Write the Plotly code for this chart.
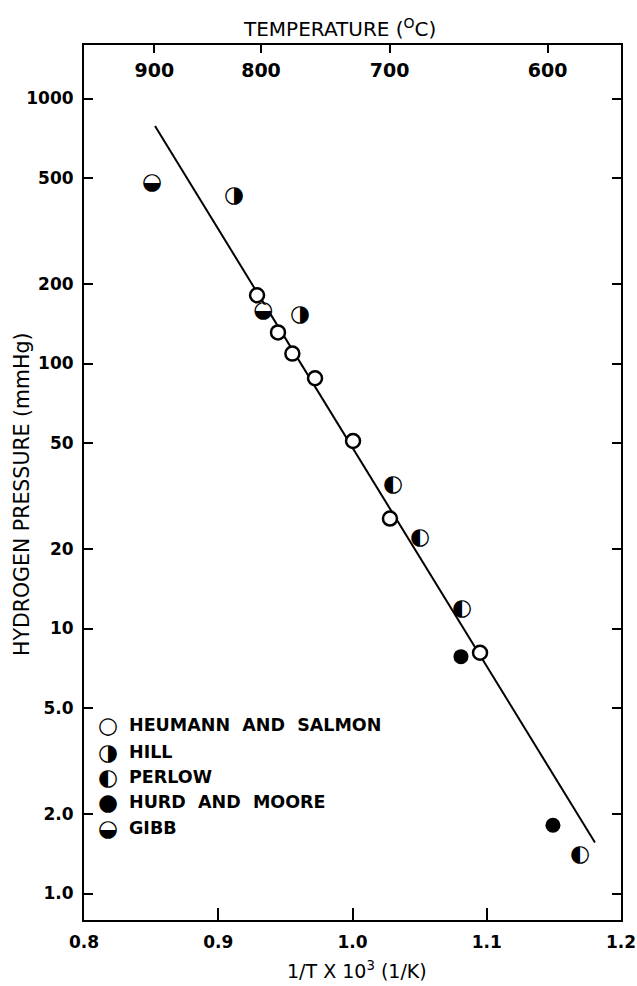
import plotly.graph_objects as go

# Reciprocal temperature (1/T x 10^3, 1/K) and hydrogen pressure (mmHg) by source
heumann_x = [0.9289, 0.9445, 0.9552, 0.9721, 1.0004, 1.0279, 1.0950]
heumann_p = [181, 131, 109, 88, 51, 26, 8.1]
hill_x = [0.9117, 0.9609]
hill_p = [427, 152]
perlow_x = [1.0302, 1.0503, 1.0816, 1.1695]
perlow_p = [34.7, 22, 11.8, 1.39]
hurd_x = [1.0808, 1.1493]
hurd_p = [7.83, 1.81]
gibb_x = [0.8507, 0.9336]
gibb_p = [477, 158]

# Fitted line end points
fit_x = [0.8529, 1.1806]
fit_p = [787, 1.557]

x_ticks = [0.8, 0.9, 1.0, 1.1, 1.2]
x_tick_text = ["0.8", "0.9", "1.0", "1.1", "1.2"]
p_ticks = [1, 2, 5, 10, 20, 50, 100, 200, 500, 1000]
p_tick_text = ["1.0", "2.0", "5.0", "10", "20", "50", "100", "200", "500", "1000"]
temp_c = [900, 800, 700, 600]
temp_pos = [1000.0 / (t + 273.15) for t in temp_c]

legend_names = ["HEUMANN  AND  SALMON", "HILL", "PERLOW", "HURD  AND  MOORE", "GIBB"]
legend_glyphs = ["\u25cb", "\u25d1", "\u25d0", "\u25cf", "\u25d2"]

FONT = "DejaVu Sans"
GLYPH_SIZE = 23

# plot-area geometry in pixels (used for legend/title placement)
W, H = 637, 986
L, R, T, B = 84, 16, 45, 66
PW, PH = W - L - R, H - T - B


def px_x(px):
    return (px - L) / PW


def px_y(py):
    return (H - B - py) / PH


fig = go.Figure()

fig.add_trace(go.Scatter(x=fit_x, y=fit_p, mode="lines",
                         line=dict(color="black", width=2), hoverinfo="skip"))

# carries the temperature scale along the top edge
fig.add_trace(go.Scatter(x=fit_x, y=fit_p, xaxis="x2", mode="none", hoverinfo="skip"))

fig.add_trace(go.Scatter(x=heumann_x, y=heumann_p, mode="markers",
                         marker=dict(symbol="circle", size=14, color="white",
                                     line=dict(color="black", width=2.5))))

fig.add_trace(go.Scatter(x=hurd_x, y=hurd_p, mode="markers",
                         marker=dict(symbol="circle", size=15, color="black",
                                     line=dict(width=0))))

# Half-filled symbols: white disc underneath, glyph on top
for xs, ps, g in [(hill_x, hill_p, "\u25d1"), (perlow_x, perlow_p, "\u25d0"),
                  (gibb_x, gibb_p, "\u25d2")]:
    fig.add_trace(go.Scatter(x=xs, y=ps, mode="markers+text",
                             text=[g] * len(xs), textposition="middle center",
                             textfont=dict(family=FONT, size=GLYPH_SIZE, color="black",
                                           weight="bold"),
                             marker=dict(symbol="circle", size=13, color="white",
                                         line=dict(width=0))))

# Legend drawn inside the plot area
row_y = [725, 752, 777, 802, 828]
for name, glyph, py in zip(legend_names, legend_glyphs, row_y):
    fig.add_annotation(x=px_x(108), y=px_y(py), xref="paper", yref="paper",
                       text=glyph, showarrow=False, xanchor="center", yanchor="middle",
                       font=dict(family=FONT, size=GLYPH_SIZE, color="black", weight="bold"))
    fig.add_annotation(x=px_x(127), y=px_y(py), xref="paper", yref="paper",
                       text=name, showarrow=False, xanchor="left", yanchor="middle",
                       font=dict(family=FONT, size=17.5, color="black", weight="bold"))

# Axis titles
fig.add_annotation(x=px_x(339), y=1, xref="paper", yref="paper", yshift=17,
                   text="TEMPERATURE (<sup>O</sup>C)", showarrow=False,
                   xanchor="center", yanchor="middle",
                   font=dict(family=FONT, size=20, color="black"))
fig.add_annotation(x=px_x(357), y=0, xref="paper", yref="paper", yshift=-50,
                   text="1/T X 10<sup>3</sup> (1/K)", showarrow=False,
                   xanchor="center", yanchor="middle",
                   font=dict(family=FONT, size=19, color="black"))
fig.add_annotation(x=px_x(22), y=px_y(495), xref="paper", yref="paper",
                   text="HYDROGEN PRESSURE (mmHg)", showarrow=False, textangle=-90,
                   xanchor="center", yanchor="middle",
                   font=dict(family=FONT, size=20.5, color="black"))

fig.update_layout(
    width=W, height=H,
    margin=dict(l=L, r=R, t=T, b=B),
    paper_bgcolor="white", plot_bgcolor="white",
    showlegend=False,
    xaxis=dict(range=[0.8, 1.2], tickmode="array", tickvals=x_ticks, ticktext=x_tick_text,
               ticks="inside", ticklen=12, tickwidth=2, tickcolor="black",
               showline=True, linewidth=2, linecolor="black", mirror=True,
               showgrid=False, zeroline=False, ticklabelstandoff=6,
               tickfont=dict(family=FONT, size=17, color="black", weight="bold"),
               ticklabeloverflow="allow", automargin=False),
    xaxis2=dict(overlaying="x", side="top", range=[0.8, 1.2], tickmode="array",
                tickvals=temp_pos, ticktext=[str(t) for t in temp_c],
                ticks="inside", ticklen=8, tickwidth=2, tickcolor="black",
                ticklabelposition="inside", ticklabelstandoff=12, showline=False,
                showgrid=False, zeroline=False, automargin=False,
                tickfont=dict(family=FONT, size=19, color="black", weight="bold")),
    yaxis=dict(type="log", range=[-0.1, 3.202], tickmode="array",
               tickvals=p_ticks, ticktext=p_tick_text,
               ticks="inside", ticklen=9, tickwidth=2, tickcolor="black",
               showline=True, linewidth=2, linecolor="black", mirror="ticks",
               showgrid=False, zeroline=False, ticklabelstandoff=5, automargin=False,
               tickfont=dict(family=FONT, size=17, color="black", weight="bold")),
)

fig.write_html("out.html")
